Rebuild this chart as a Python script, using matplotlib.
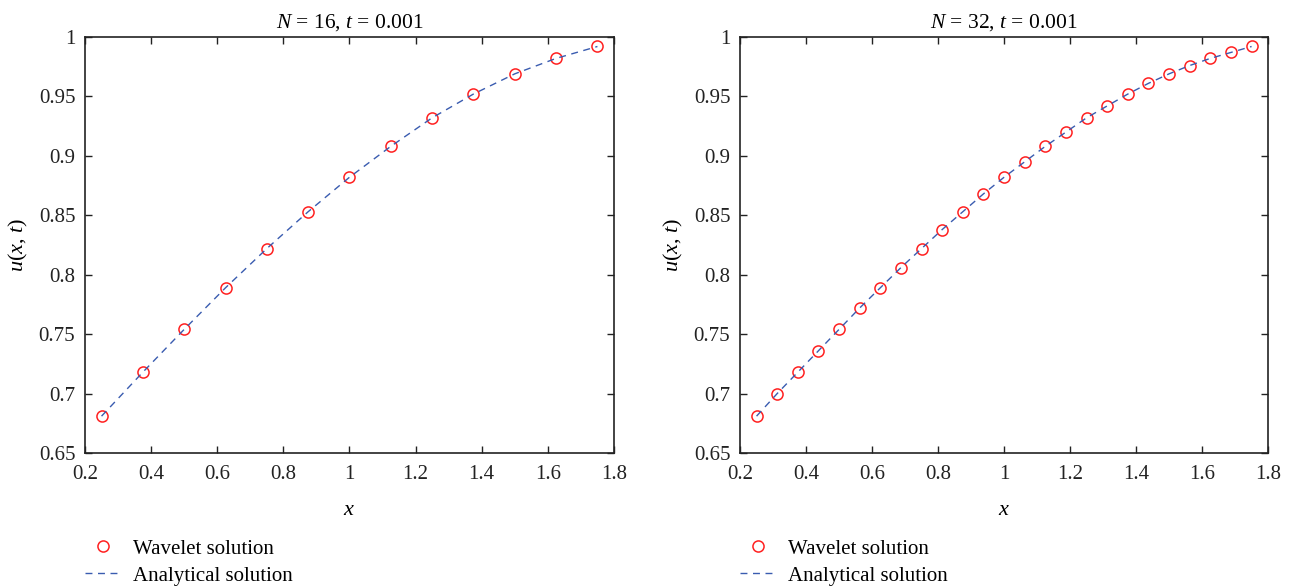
import matplotlib as mpl
mpl.use('Agg')
import matplotlib.pyplot as plt

plt.rcParams['font.family'] = ['Liberation Serif', 'DejaVu Serif']
plt.rcParams['mathtext.fontset'] = 'custom'
plt.rcParams['mathtext.rm'] = 'Liberation Serif'
plt.rcParams['mathtext.it'] = 'Liberation Serif:italic'

# data
x16 = [0.25, 0.375, 0.5, 0.625, 0.75, 0.875, 1.0, 1.125, 1.25, 1.375, 1.5, 1.625, 1.75]
u16 = [0.681, 0.718, 0.754, 0.789, 0.822, 0.853, 0.882, 0.908, 0.932, 0.952, 0.969, 0.982, 0.992]

x32 = [0.25, 0.3125, 0.375, 0.4375, 0.5, 0.5625, 0.625, 0.6875, 0.75, 0.8125,
       0.875, 0.9375, 1.0, 1.0625, 1.125, 1.1875, 1.25, 1.3125, 1.375, 1.4375,
       1.5, 1.5625, 1.625, 1.6875, 1.75]
u32 = [0.681, 0.700, 0.718, 0.736, 0.754, 0.772, 0.789, 0.806, 0.822, 0.838,
       0.853, 0.868, 0.882, 0.895, 0.908, 0.920, 0.932, 0.942, 0.952, 0.961,
       0.969, 0.976, 0.982, 0.987, 0.992]

titles = [r'$N$ = 16, $t$ = 0.001', r'$N$ = 32, $t$ = 0.001']
xticks = [0.2, 0.4, 0.6, 0.8, 1.0, 1.2, 1.4, 1.6, 1.8]
xticklabels = ['0.2', '0.4', '0.6', '0.8', '1', '1.2', '1.4', '1.6', '1.8']
yticks = [0.65, 0.7, 0.75, 0.8, 0.85, 0.9, 0.95, 1.0]
yticklabels = ['0.65', '0.7', '0.75', '0.8', '0.85', '0.9', '0.95', '1']

fig = plt.figure(figsize=(12.92, 5.88), dpi=100)
ax1 = fig.add_axes([0.0658, 0.2296, 0.4094, 0.7075])
ax2 = fig.add_axes([0.5728, 0.2296, 0.4087, 0.7075])

for ax, xs, us, title in [(ax1, x16, u16, titles[0]), (ax2, x32, u32, titles[1])]:
    ax.plot(xs, us, 'o', mfc='none', mec='#ff2020', ms=8, mew=1.1, label='Wavelet solution')
    ax.plot(xs, us, '--', color='#3a5cb0', lw=1.0, dashes=(5, 4), label='Analytical solution')
    ax.set_xlim(0.2, 1.8)
    ax.set_ylim(0.65, 1.0)
    ax.set_xticks(xticks)
    ax.set_xticklabels(xticklabels)
    ax.set_yticks(yticks)
    ax.set_yticklabels(yticklabels)
    ax.tick_params(direction='in', top=True, right=True, labelsize=15, length=5, width=1,
                   colors='#222222')
    ax.tick_params(axis='x', pad=9)
    ax.tick_params(axis='y', pad=7)
    for s in ax.spines.values():
        s.set_linewidth(1.2)
        s.set_color('#222222')
    ax.set_title(title, fontsize=15.5, pad=7)
    ax.set_xlabel(r'$x$', fontsize=16, labelpad=12)
    ax.set_ylabel(r'$u$($x$, $t$)', fontsize=16, labelpad=6)
    ax.legend(loc='upper left', bbox_to_anchor=(0.0, -0.207), frameon=False, fontsize=15,
              handlelength=1.7, handletextpad=0.6, labelspacing=0.35, borderpad=0,
              borderaxespad=0)

fig.savefig('out.png', dpi=100)
